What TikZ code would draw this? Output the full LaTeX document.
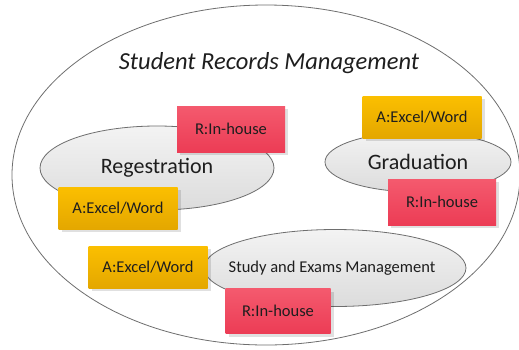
\documentclass[tikz,border=0pt]{standalone}
\usepackage{fontspec}
\setmainfont{Carlito}
\usetikzlibrary{shapes.geometric, shadows}
\definecolor{txt}{RGB}{30,30,30}
\definecolor{appyellow}{RGB}{251,191,0}
\definecolor{appyellowdark}{RGB}{228,167,0}
\definecolor{resred}{RGB}{244,90,110}
\definecolor{resreddark}{RGB}{236,60,85}
\definecolor{subgray}{RGB}{243,243,243}
\definecolor{subgraydark}{RGB}{220,220,220}
\definecolor{rim}{RGB}{110,110,110}
\tikzstyle{proc} = [ellipse,draw=rim,line width=0.8pt,top color=subgray,bottom color=subgraydark,text=txt,text centered,inner sep=0pt]
\tikzstyle{tag} = [rectangle,text=txt,inner sep=0pt,font=\fontsize{16.5}{18}\selectfont,drop shadow={shadow xshift=3pt,shadow yshift=-3pt,fill=black,opacity=.12}]
\tikzstyle{app} = [tag,top color=appyellow,bottom color=appyellowdark,minimum width=119pt,minimum height=42pt]
\tikzstyle{res} = [tag,top color=resred,bottom color=resreddark,minimum width=108pt,minimum height=46pt]

\begin{document}
\begin{tikzpicture}[x=1pt,y=-1pt]
		\useasboundingbox (0,0) rectangle (519,349);
		\node [ellipse,draw=rim,line width=0.8pt,fill=white,minimum width=508pt,minimum height=340pt](srm) at (266,175){};
		\node [text=txt,font=\itshape\fontsize{24.5}{28}\selectfont](title) at (269,63){Student Records Management};
		
		\node [proc,minimum width=234pt,minimum height=84pt,font=\fontsize{22}{26}\selectfont](reg) at (157,168){Regestration};
		\node [proc,minimum width=186pt,minimum height=60pt,font=\fontsize{22}{26}\selectfont](grad) at (418,162){Graduation};
		\node [proc,minimum width=262pt,minimum height=77pt,label={[text=txt,font=\fontsize{16.5}{18}\selectfont,xshift=-3pt]center:Study and Exams Management}](study) at (335,268){};
		
		\node [res](regr) at (231,129){R:In-house};
		\node [app](rega) at (118,208){A:Excel/Word};
		\node [app](grada) at (422,117){A:Excel/Word};
		\node [res](gradr) at (442,202){R:In-house};
		\node [app](studya) at (148,267){A:Excel/Word};
		\node [res,minimum width=105pt,minimum height=45pt](studyr) at (278,311){R:In-house};
		\end{tikzpicture}
\end{document}
